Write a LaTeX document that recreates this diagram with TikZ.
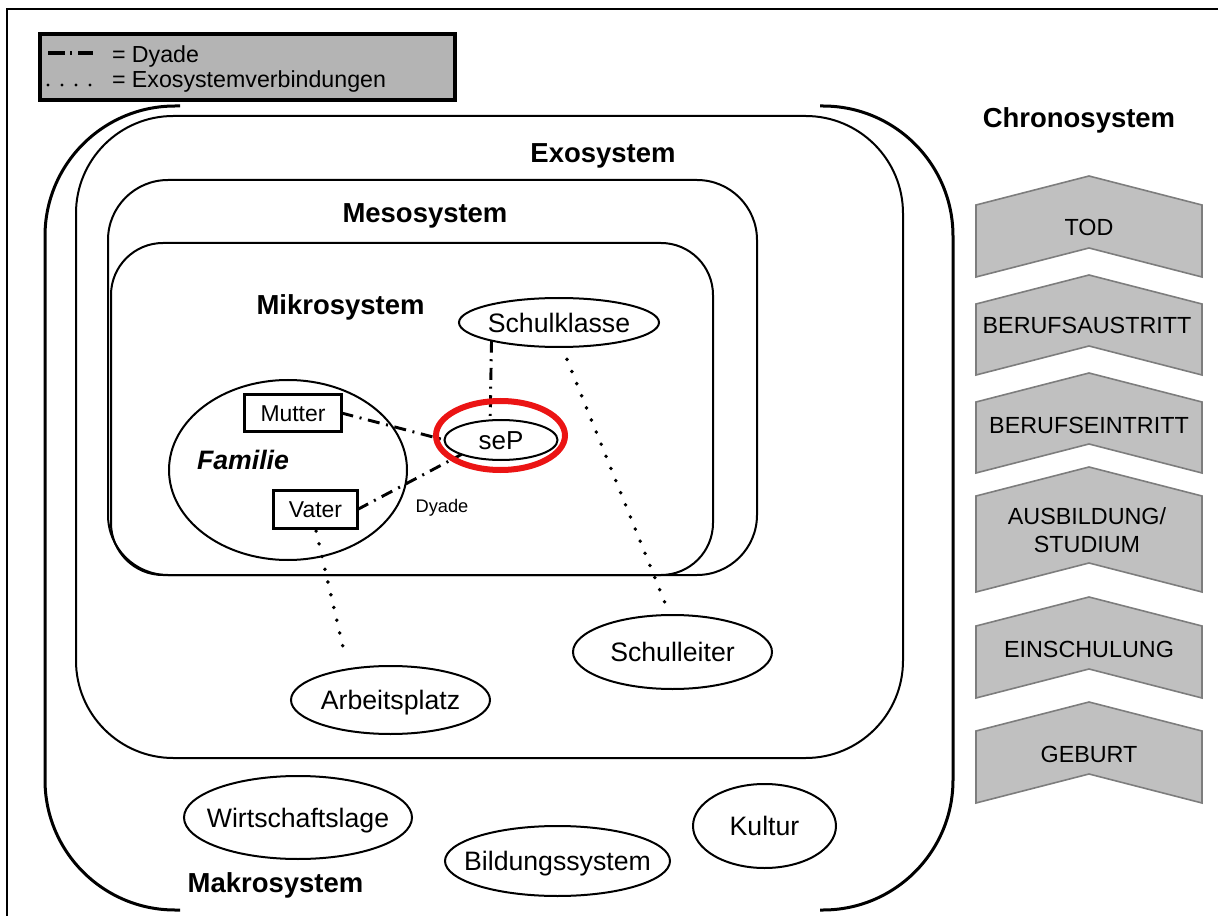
\documentclass[tikz,border=0pt]{standalone}
\usepackage{fontspec}
\setmainfont{Liberation Sans}
\usetikzlibrary{shapes.geometric}
\definecolor{chevfill}{RGB}{192,192,192}
\definecolor{chevedge}{RGB}{125,125,125}
\definecolor{legendfill}{RGB}{180,180,180}
\definecolor{ringred}{RGB}{235,20,20}
\newcommand\lbl[1]{\makebox[0pt]{#1}}
\begin{document}
\begin{tikzpicture}[x=0.75pt,y=-0.75pt,
  every node/.style={inner sep=0pt, outer sep=0pt},
  sysbox/.style={draw, line width=1.5pt},
  bracket/.style={draw, line width=2.25pt, rounded corners=97.5pt},
  heading/.style={font=\fontsize{20.6}{24}\selectfont\bfseries, anchor=base},
  ell/.style={draw, ellipse, line width=1.5pt, font=\fontsize{20}{24}\selectfont,
    text height=14.3pt, text depth=0pt},
  person/.style={draw, rectangle, line width=2.25pt, font=\fontsize{17.2}{20}\selectfont,
    text height=12.3pt, text depth=0pt},
  dyade/.style={line width=2.2pt, dash pattern=on 9pt off 5pt on 1.5pt off 5pt},
  exo/.style={line width=2.9pt, line cap=round, dash pattern=on 0pt off 9.8pt},
  chev/.style={fill=chevfill, draw=chevedge, line width=1.2pt},
  chevtext/.style={font=\fontsize{17.5}{21}\selectfont, anchor=base},
  legendtext/.style={font=\fontsize{17.4}{20}\selectfont, anchor=base west}
]
\useasboundingbox (0,0) rectangle (1218,916);

% outer frame
\draw[line width=1.5pt] (7,916) -- (7,9) -- (1218,9);

% legend
\node[draw, line width=3pt, fill=legendfill, minimum width=311.25pt, minimum height=49.5pt,
  anchor=north west] (legend) at (40,34) {};
\coordinate (dyA) at (48,53);
\coordinate (dyB) at (93,53);
\draw[line width=2.6pt, dash pattern=on 12.75pt off 3.75pt on 1.5pt off 4.5pt on 12pt off 10pt] (dyA) -- (dyB);
\node[legendtext] (legDy) at (112,63) {= Dyade};
\coordinate (exA) at (48,85);
\coordinate (exB) at (92,85);
\draw[exo, line width=2.5pt, dash pattern=on 0pt off 10.5pt] (exA) -- (exB);
\node[legendtext] (legEx) at (112,88) {= Exosystemverbindungen};

% Makrosystem brackets
\draw[bracket] (180,106) -- (45,106) -- (45,910) -- (180,910);
\draw[bracket] (820,106) -- (953,106) -- (953,910) -- (820,910);

% nested systems
\draw[sysbox, rounded corners=73pt] (76,116) rectangle (903,758);
\draw[sysbox, rounded corners=45pt] (108,180) rectangle (757,575);
\draw[sysbox, rounded corners=39pt] (111,243) rectangle (713,575);

% system titles
\node[heading] (exoT) at (603,163) {Exosystem};
\node[heading] (mesoT) at (425,223) {Mesosystem};
\node[heading] (mikroT) at (340.5,315) {Mikrosystem};
\node[heading] (chronoT) at (1079,128) {Chronosystem};
\node[heading] (makroT) at (275.5,892) {Makrosystem};

% family
\node[ell, minimum width=178.5pt, minimum height=135pt] (familie) at (288,470) {};
\node[heading, font=\fontsize{20}{24}\selectfont\bfseries\itshape] (famT) at (243,469) {Familie};
\node[person, minimum width=72.75pt, minimum height=27.75pt] (mutter) at (293,413) {Mutter};
\node[person, minimum width=63pt, minimum height=28.5pt] (vater) at (315.5,509.5) {Vater};

% settings
\node[ell, minimum width=150pt, minimum height=36.75pt] (klasse) at (559,322.5) {\lbl{Schulklasse}};
\node[ell, minimum width=84.75pt, minimum height=30pt, font=\fontsize{19.5}{23}\selectfont] (sep) at (501,440) {\lbl{seP}};
\node[ell, minimum width=149.25pt, minimum height=51pt] (arbeit) at (390.5,700) {\lbl{Arbeitsplatz}};
\node[ell, minimum width=149.25pt, minimum height=55.5pt] (leiter) at (672.5,652) {\lbl{Schulleiter}};
\node[ell, minimum width=171pt, minimum height=62.25pt] (wirt) at (298,817.5) {\lbl{Wirtschaftslage}};
\node[ell, minimum width=168.75pt, minimum height=52.5pt] (bild) at (557.5,861) {\lbl{Bildungssystem}};
\node[ell, minimum width=107.25pt, minimum height=63pt] (kultur) at (764.5,826) {\lbl{Kultur}};

% dyads
\draw[dyade] (mutter.east) -- (sep.west);
\draw[dyade] (vater.east) -- (sep.200);
\draw[dyade] (klasse.195) -- (sep.119);
\node[anchor=base, font=\fontsize{13.7}{16}\selectfont] (dyT) at (442,512) {Dyade};

% exosystem links
\draw[exo, shorten <=10pt, shorten >=8pt] (klasse.277) -- (leiter.94);
\draw[exo, shorten <=2pt, shorten >=9pt] (vater.south) -- (arbeit.144);

% highlight of the person
\node[draw=ringred, line width=4.5pt, ellipse, minimum width=96.75pt, minimum height=51.75pt] (ring) at (500.5,435.5) {};

% chronosystem
\foreach \a/\b in {176/277, 275/375, 373/473, 467/592, 597/698, 702/803} {
  \draw[chev] (976,\a+29) -- (1089,\a) -- (1202,\a+29) -- (1202,\b) -- (1089,\b-29) -- (976,\b) -- cycle;
}
\node[chevtext] (tod) at (1089,236) {TOD};
\node[chevtext] (austritt) at (1087,334) {BERUFSAUSTRITT};
\node[chevtext] (eintritt) at (1089,433) {BERUFSEINTRITT};
\node[chevtext, anchor=center, align=center] (ausb) at (1087,530) {AUSBILDUNG/\\STUDIUM};
\node[chevtext] (einsch) at (1089,657) {EINSCHULUNG};
\node[chevtext] (geburt) at (1089,762) {GEBURT};
\end{tikzpicture}
\end{document}
